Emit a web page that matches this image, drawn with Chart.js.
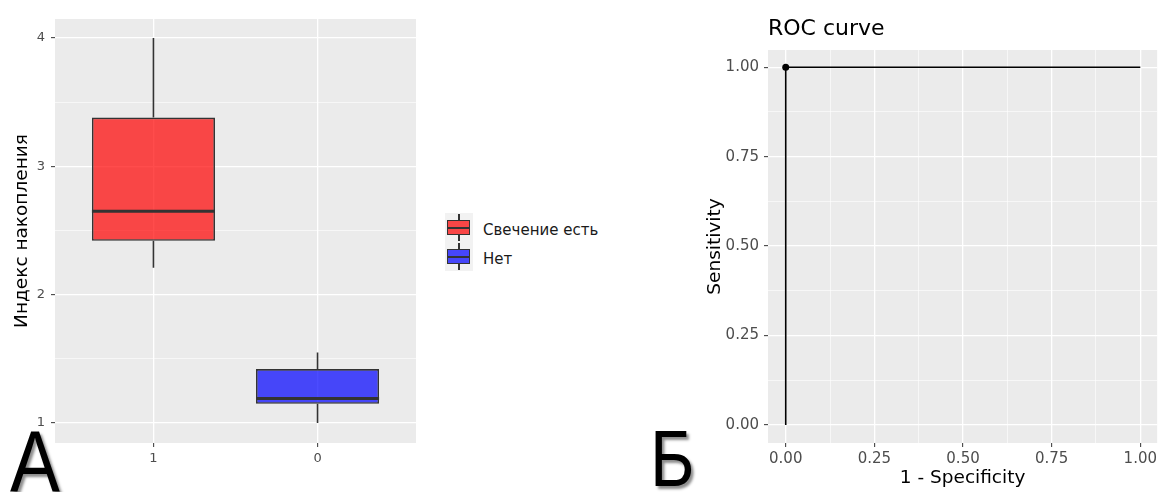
<!DOCTYPE html>
<html>
<head>
<meta charset="utf-8">
<script src="https://cdn.jsdelivr.net/npm/chart.js@4.4.1/dist/chart.umd.min.js"></script>
<style>
  html, body { margin:0; padding:0; background:#ffffff; width:1160px; height:492px; overflow:hidden; font-family:'DejaVu Sans', sans-serif; }
  #wrap { position:relative; width:1160px; height:492px; }
  #c1 { position:absolute; left:0; top:0; }
  #c2 { position:absolute; left:690px; top:0; }
  .big { position:absolute; font-family:'Liberation Sans', sans-serif; color:#000; line-height:1; transform-origin:left top; transform:scaleX(0.85); text-shadow:3px 3px 3px rgba(0,0,0,0.45); }
  #rocTitle { position:absolute; left:768px; top:15px; font-size:22px; line-height:26px; color:#000; white-space:nowrap; }
  #legend { position:absolute; left:445px; top:213px; }
  .key { position:relative; width:28px; height:29px; background:#F2F2F2; }
  .whisk { position:absolute; left:13px; top:1px; width:1.5px; height:27px; background:#333; }
  .box { position:absolute; left:2px; top:7px; width:21px; height:13px; border:1.5px solid #333; }
  .med { position:absolute; left:0; top:5.5px; width:21px; height:2.5px; background:#333; }
  .ltxt { position:absolute; left:38px; font-size:15px; line-height:18px; color:#1a1a1a; white-space:nowrap; }
</style>
</head>
<body>
<div id="wrap">
  <canvas id="c1" width="430" height="492"></canvas>
  <canvas id="c2" width="470" height="492"></canvas>
  <div id="legend"></div>
  <div id="rocTitle">ROC curve</div>
  <div class="big" style="left:10px; top:418px; font-size:88px;">А</div>
  <div class="big" style="left:650px; top:419px; font-size:80px;">Б</div>
</div>
<script>
// ---------- Data (panel А: boxplot) ----------
const boxCategories = ['1', '0'];
const boxLegendLabels = ['Свечение есть', 'Нет'];
const boxMin    = [2.21, 1.00];
const boxQ1     = [2.42, 1.15];
const boxMedian = [2.65, 1.19];
const boxQ3     = [3.38, 1.42];
const boxMax    = [4.00, 1.55];
const boxYTicks = [1, 2, 3, 4];
const boxYTitle = 'Индекс накопления';

// ---------- Data (panel Б: ROC curve) ----------
const rocFpr = [0, 0, 1];
const rocTpr = [0, 1, 1];
const rocTicks = [0, 0.25, 0.5, 0.75, 1];
const rocTitle = 'ROC curve';
const rocXTitle = '1 - Specificity';
const rocYTitle = 'Sensitivity';

// ---------- Styles ----------
const boxFill = ['rgba(255,0,0,0.7)', 'rgba(0,0,255,0.7)'];
const legendFill = ['rgba(249,70,70,1)', 'rgba(70,70,249,1)'];
const panelColor = '#EBEBEB';
const tickTextColor = '#4D4D4D';

Chart.defaults.font.family = "'DejaVu Sans', sans-serif";

function withMinor(majors) {
  const out = [];
  for (let i = 0; i < majors.length; i++) {
    out.push(majors[i]);
    if (i < majors.length - 1) out.push((majors[i] + majors[i + 1]) / 2);
  }
  return out;
}
const isMajor = (v, majors) => majors.some(m => Math.abs(m - v) < 1e-9);

const panelBg = {
  id: 'panelBg',
  beforeDraw(chart) {
    const { ctx, chartArea: a } = chart;
    ctx.save();
    ctx.fillStyle = panelColor;
    ctx.fillRect(a.left, a.top, a.right - a.left, a.bottom - a.top);
    ctx.restore();
  }
};

const boxExtras = {
  id: 'boxExtras',
  afterDatasetsDraw(chart) {
    const meta = chart.getDatasetMeta(0);
    const y = chart.scales.y;
    const ctx = chart.ctx;
    ctx.save();
    ctx.strokeStyle = '#333333';
    meta.data.forEach((bar, i) => {
      const x = bar.x;
      ctx.lineWidth = 1.6;
      ctx.beginPath();
      ctx.moveTo(x, y.getPixelForValue(boxMax[i]));
      ctx.lineTo(x, y.getPixelForValue(boxQ3[i]));
      ctx.moveTo(x, y.getPixelForValue(boxQ1[i]));
      ctx.lineTo(x, y.getPixelForValue(boxMin[i]));
      ctx.stroke();
      const my = y.getPixelForValue(boxMedian[i]);
      ctx.lineWidth = 3;
      ctx.beginPath();
      ctx.moveTo(x - bar.width / 2, my);
      ctx.lineTo(x + bar.width / 2, my);
      ctx.stroke();
    });
    ctx.restore();
  }
};

// ---------- Panel А ----------
const boxYAll = withMinor(boxYTicks);
new Chart(document.getElementById('c1'), {
  type: 'bar',
  data: {
    datasets: [{
      data: boxCategories.map((c, i) => ({ x: i + 1, y: [boxQ1[i], boxQ3[i]] })),
      backgroundColor: boxFill,
      borderColor: '#333333',
      borderWidth: 1.6,
      borderSkipped: false,
      categoryPercentage: 0.75,
      barPercentage: 1.0
    }]
  },
  options: {
    responsive: false,
    animation: false,
    events: [],
    layout: { padding: { top: 19, right: 14, left: 0, bottom: 0 } },
    plugins: { legend: { display: false }, tooltip: { enabled: false } },
    scales: {
      x: {
        type: 'linear', min: 0.4, max: 2.6, offset: false,
        afterBuildTicks(s) { s.ticks = boxCategories.map((c, i) => ({ value: i + 1 })); },
        ticks: { callback: (v) => boxCategories[Math.round(v) - 1], color: tickTextColor, font: { size: 13 }, padding: 4, autoSkip: false, maxRotation: 0 },
        grid: { offset: false, color: '#ffffff', lineWidth: 1.3, tickLength: 4, tickColor: '#333333', tickWidth: 1 },
        border: { display: false },
        afterFit(s) { s.height = 49; }
      },
      y: {
        type: 'linear', min: 0.844, max: 4.148,
        afterBuildTicks(s) { s.ticks = boxYAll.map(v => ({ value: v })); },
        ticks: { callback: (v) => isMajor(v, boxYTicks) ? String(v) : '', color: tickTextColor, font: { size: 13 }, padding: 6, autoSkip: false },
        grid: {
          color: '#ffffff',
          lineWidth: (c) => isMajor(c.tick.value, boxYTicks) ? 1.3 : 0.6,
          tickLength: 4,
          tickColor: (c) => isMajor(c.tick.value, boxYTicks) ? '#333333' : 'rgba(0,0,0,0)',
          tickWidth: 1
        },
        border: { display: false },
        title: { display: true, text: boxYTitle, color: '#000', font: { size: 18.5 }, padding: { top: 11, bottom: 0 } },
        afterFit(s) { s.width = 55; }
      }
    }
  },
  plugins: [panelBg, boxExtras]
});

// legend (HTML)
const legendEl = document.getElementById('legend');
boxLegendLabels.forEach((lab, i) => {
  const k = document.createElement('div');
  k.className = 'key';
  k.innerHTML = '<div class="whisk"></div><div class="box" style="background:' + legendFill[i] + '"><div class="med"></div></div>';
  const t = document.createElement('div');
  t.className = 'ltxt';
  t.style.top = '8px';
  t.textContent = lab;
  k.appendChild(t);
  legendEl.appendChild(k);
});

// ---------- Panel Б ----------
document.getElementById('rocTitle').textContent = rocTitle;
const rocAll = withMinor(rocTicks);
new Chart(document.getElementById('c2'), {
  type: 'line',
  data: {
    datasets: [{
      data: rocFpr.map((x, i) => ({ x: x, y: rocTpr[i] })),
      borderColor: '#000000',
      borderWidth: 1.6,
      pointRadius: (c) => c.dataIndex === 1 ? 3.5 : 0,
      pointBackgroundColor: '#000000',
      pointBorderWidth: 0,
      tension: 0,
      fill: false
    }]
  },
  options: {
    responsive: false,
    animation: false,
    events: [],
    layout: { padding: { top: 50, right: 0, left: 0, bottom: 0 } },
    plugins: { legend: { display: false }, tooltip: { enabled: false } },
    scales: {
      x: {
        type: 'linear', min: -0.05, max: 1.0476,
        afterBuildTicks(s) { s.ticks = rocAll.map(v => ({ value: v })); },
        ticks: { callback: (v) => isMajor(v, rocTicks) ? v.toFixed(2) : '', color: tickTextColor, font: { size: 15 }, padding: 3, autoSkip: false, maxRotation: 0 },
        grid: {
          color: '#ffffff',
          lineWidth: (c) => isMajor(c.tick.value, rocTicks) ? 1.3 : 0.6,
          tickLength: 4,
          tickColor: (c) => isMajor(c.tick.value, rocTicks) ? '#333333' : 'rgba(0,0,0,0)',
          tickWidth: 1
        },
        border: { display: false },
        title: { display: true, text: rocXTitle, color: '#000', font: { size: 18.5 }, padding: { top: 0, bottom: 3 } },
        afterFit(s) { s.height = 49; }
      },
      y: {
        type: 'linear', min: -0.0503, max: 1.048,
        afterBuildTicks(s) { s.ticks = rocAll.map(v => ({ value: v })); },
        ticks: { callback: (v) => isMajor(v, rocTicks) ? v.toFixed(2) : '', color: tickTextColor, font: { size: 15 }, padding: 5, autoSkip: false },
        grid: {
          color: '#ffffff',
          lineWidth: (c) => isMajor(c.tick.value, rocTicks) ? 1.3 : 0.6,
          tickLength: 4,
          tickColor: (c) => isMajor(c.tick.value, rocTicks) ? '#333333' : 'rgba(0,0,0,0)',
          tickWidth: 1
        },
        border: { display: false },
        title: { display: true, text: rocYTitle, color: '#000', font: { size: 18.5 }, padding: { top: 14, bottom: 0 } },
        afterFit(s) { s.width = 78; }
      }
    }
  },
  plugins: [panelBg]
});
</script>
</body>
</html>
